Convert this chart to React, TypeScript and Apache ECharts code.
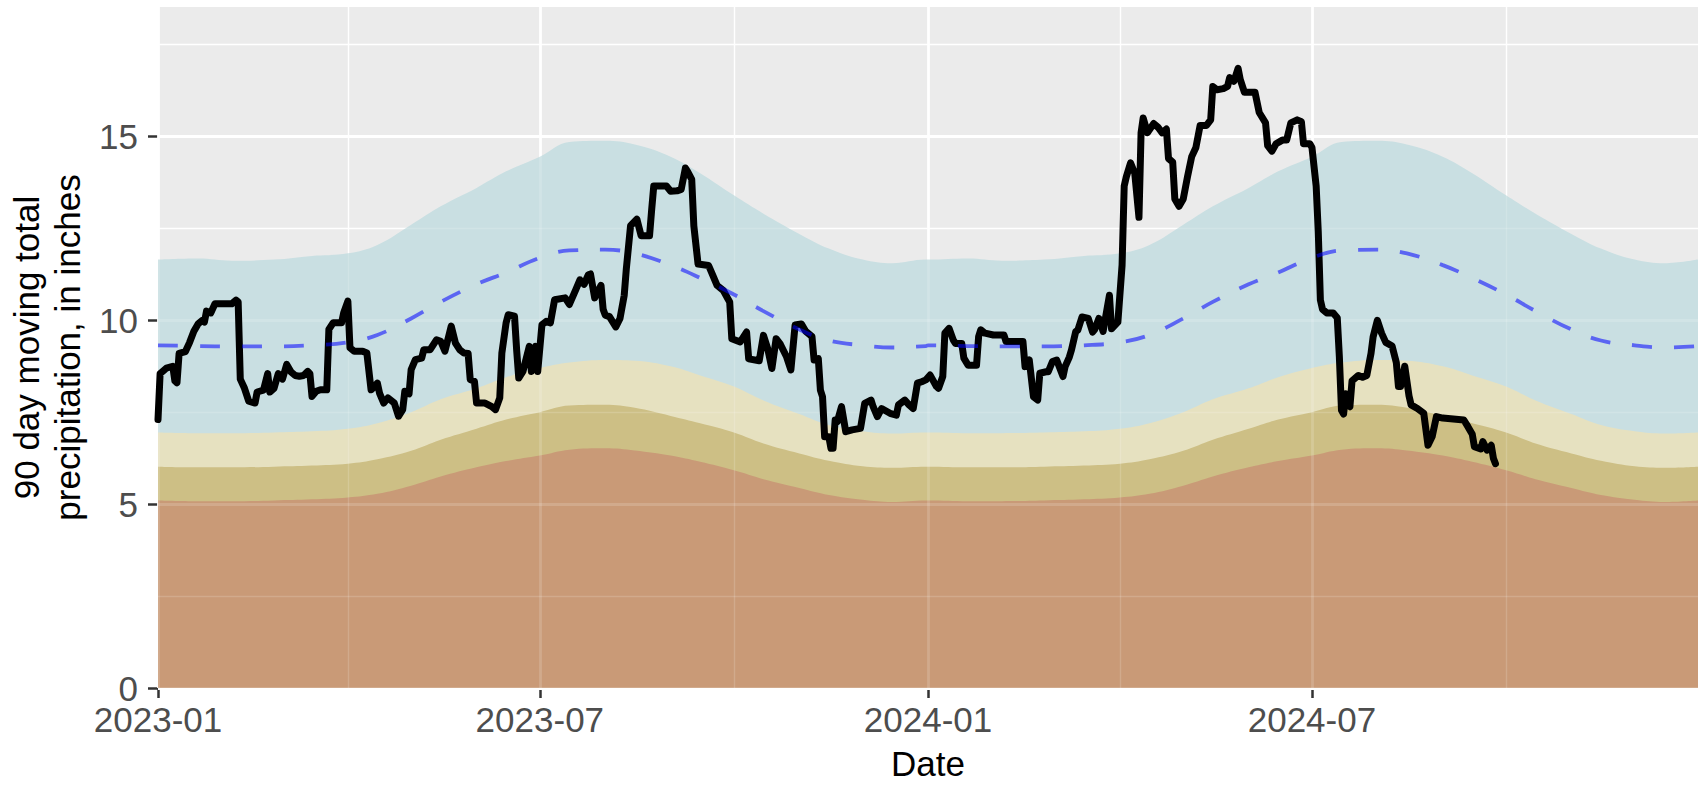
import React, { useEffect, useRef } from 'react';
import * as echarts from 'echarts';

const FONT = '"Liberation Sans", Arial, sans-serif';

const START = '2023-01-01';
const END = '2024-12-31';
const climYears = [2023, 2024];

// Climatology (same for each year), read at these month-day points
const climMonthDay = ['01-01', '01-20', '02-05', '02-25', '03-15', '04-01', '04-15', '05-01', '05-15', '06-01', '06-15', '07-01', '07-15', '08-01', '08-15', '09-01', '09-15', '10-01', '10-15', '11-01', '11-15', '12-01', '12-15', '12-31'];
const climBrownTop = [5.1, 5.08, 5.08, 5.1, 5.13, 5.18, 5.28, 5.5, 5.75, 6.0, 6.17, 6.32, 6.48, 6.52, 6.46, 6.32, 6.15, 5.92, 5.68, 5.44, 5.25, 5.12, 5.06, 5.1];
const climOliveTop = [6.02, 6.0, 6.0, 6.02, 6.05, 6.1, 6.22, 6.45, 6.75, 7.05, 7.3, 7.5, 7.68, 7.7, 7.62, 7.4, 7.2, 6.95, 6.65, 6.38, 6.18, 6.03, 5.99, 6.02];
const climBeigeTop = [6.95, 6.93, 6.93, 6.95, 6.98, 7.05, 7.2, 7.5, 7.85, 8.15, 8.45, 8.7, 8.85, 8.92, 8.9, 8.75, 8.5, 8.2, 7.82, 7.45, 7.15, 6.98, 6.92, 6.95];
const climBlueTop = [11.65, 11.68, 11.62, 11.65, 11.75, 11.82, 12.05, 12.6, 13.1, 13.6, 14.05, 14.45, 14.85, 14.88, 14.78, 14.45, 14.0, 13.4, 12.9, 12.35, 11.95, 11.65, 11.55, 11.65];
const climMedian = [9.32, 9.3, 9.29, 9.29, 9.32, 9.4, 9.6, 10.05, 10.5, 10.98, 11.3, 11.7, 11.9, 11.92, 11.82, 11.5, 11.15, 10.7, 10.25, 9.75, 9.45, 9.32, 9.26, 9.3];

// Observed 90-day moving total: days since 2023-01-01 and inches
const obsDayOffset = [0, 1, 4, 7, 8, 9, 10, 13, 15, 17, 19, 21, 22, 23, 25, 27, 35, 37, 38, 39, 41, 43, 46, 47, 50, 52, 53, 55, 57, 59, 61, 63, 65, 67, 69, 71, 72, 73, 75, 77, 80, 81, 83, 87, 88, 90, 91, 93, 97, 99, 101, 102, 104, 105, 107, 109, 112, 114, 116, 117, 119, 120, 122, 125, 126, 129, 132, 134, 136, 138, 139, 141, 143, 145, 147, 148, 150, 151, 155, 158, 160, 162, 163, 165, 166, 169, 170, 171, 173, 176, 177, 179, 180, 182, 184, 186, 188, 193, 195, 198, 200, 202, 204, 205, 207, 210, 211, 212, 214, 217, 219, 221, 222, 224, 227, 229, 233, 234, 235, 241, 243, 246, 248, 250, 251, 253, 254, 256, 261, 263, 265, 268, 270, 271, 272, 276, 279, 280, 285, 287, 289, 291, 293, 295, 298, 300, 302, 305, 307, 310, 311, 313, 314, 315, 316, 318, 319, 320, 321, 322, 324, 326, 329, 333, 335, 338, 339, 341, 343, 347, 350, 351, 354, 356, 358, 360, 362, 364, 366, 369, 370, 372, 373, 375, 377, 378, 381, 382, 384, 388, 389, 390, 392, 396, 401, 402, 410, 411, 413, 415, 417, 418, 421, 422, 424, 426, 429, 430, 432, 433, 435, 436, 438, 441, 443, 444, 446, 448, 451, 452, 455, 457, 458, 459, 461, 463, 465, 466, 467, 469, 472, 474, 476, 478, 479, 481, 482, 484, 486, 488, 490, 492, 494, 497, 499, 500, 502, 505, 507, 508, 510, 512, 513, 515, 520, 522, 525, 526, 528, 530, 533, 535, 537, 540, 542, 543, 546, 547, 549, 550, 551, 552, 554, 557, 559, 560, 561, 562, 563, 564, 565, 566, 569, 571, 573, 575, 576, 578, 580, 582, 585, 587, 588, 589, 591, 593, 594, 597, 600, 602, 604, 606, 609, 619, 621, 623, 624, 627, 628, 630, 632, 633, 634];
const obsValue = [7.3, 8.55, 8.7, 8.75, 8.35, 8.3, 9.1, 9.15, 9.4, 9.7, 9.9, 10.0, 9.95, 10.25, 10.2, 10.45, 10.45, 10.55, 10.5, 8.4, 8.15, 7.8, 7.75, 8.05, 8.1, 8.55, 8.05, 8.15, 8.55, 8.4, 8.8, 8.6, 8.5, 8.48, 8.5, 8.61, 8.55, 7.93, 8.07, 8.11, 8.11, 9.75, 9.93, 9.93, 10.2, 10.52, 9.25, 9.16, 9.16, 9.11, 8.11, 8.16, 8.29, 8.02, 7.75, 7.89, 7.75, 7.39, 7.57, 8.07, 8.0, 8.66, 8.93, 8.97, 9.2, 9.2, 9.47, 9.43, 9.16, 9.61, 9.84, 9.38, 9.2, 9.11, 9.1, 8.39, 8.34, 7.75, 7.75, 7.66, 7.57, 7.89, 9.11, 9.93, 10.15, 10.11, 9.2, 8.43, 8.61, 9.29, 8.61, 9.29, 8.61, 9.88, 9.97, 9.93, 10.56, 10.61, 10.43, 10.83, 11.1, 10.98, 11.24, 11.26, 10.61, 10.95, 10.3, 10.14, 10.1, 9.82, 10.05, 10.68, 11.4, 12.57, 12.75, 12.3, 12.3, 13.0, 13.65, 13.65, 13.51, 13.52, 13.56, 14.14, 14.05, 13.83, 12.57, 11.53, 11.49, 11.22, 10.95, 10.81, 10.6, 10.5, 9.5, 9.41, 9.68, 8.95, 8.9, 9.59, 9.23, 8.69, 9.5, 9.35, 9.0, 8.65, 9.87, 9.9, 9.7, 9.56, 8.92, 8.96, 8.1, 7.92, 6.83, 6.83, 6.52, 6.52, 7.29, 7.24, 7.65, 6.97, 7.02, 7.06, 7.74, 7.83, 7.65, 7.38, 7.6, 7.47, 7.42, 7.7, 7.83, 7.7, 7.6, 8.29, 8.33, 8.38, 8.51, 8.2, 8.15, 8.47, 9.65, 9.78, 9.46, 9.37, 9.37, 8.97, 8.78, 8.78, 9.56, 9.74, 9.65, 9.6, 9.6, 9.42, 9.42, 8.74, 8.92, 7.92, 7.83, 8.56, 8.6, 8.6, 8.88, 8.92, 8.47, 8.74, 9.0, 9.19, 9.69, 9.73, 10.09, 10.05, 9.68, 9.75, 10.05, 9.7, 10.68, 9.77, 9.95, 11.5, 13.65, 13.9, 14.28, 14.0, 12.8, 15.1, 15.5, 15.1, 15.35, 15.25, 15.1, 15.2, 14.4, 14.3, 13.3, 13.1, 13.3, 13.9, 14.45, 14.7, 15.3, 15.3, 15.45, 16.36, 16.27, 16.3, 16.36, 16.6, 16.5, 16.85, 16.55, 16.2, 16.2, 15.65, 15.37, 14.75, 14.6, 14.8, 14.9, 14.9, 15.37, 15.45, 15.4, 14.8, 14.8, 14.7, 13.65, 12.4, 10.55, 10.3, 10.2, 10.2, 10.07, 9.0, 7.55, 7.45, 8.0, 7.7, 7.65, 8.35, 8.5, 8.45, 8.5, 9.1, 9.55, 10.0, 9.65, 9.4, 9.3, 8.85, 8.2, 8.2, 8.75, 7.95, 7.7, 7.6, 7.47, 6.6, 6.84, 7.38, 7.34, 7.29, 7.1, 6.9, 6.56, 6.5, 6.7, 6.47, 6.6, 6.25, 6.1];

const xMajorDates = ['2023-01-01', '2023-07-01', '2024-01-01', '2024-07-01', '2025-01-01'];
const xLabelDates = ['2023-01-01', '2023-07-01', '2024-01-01', '2024-07-01'];
const xMinorDates = ['2023-04-01', '2023-10-01', '2024-04-01', '2024-10-01'];
const yMajorTicks = [0, 5, 10, 15];
const yMinorTicks = [2.5, 7.5, 12.5, 17.5];
const Y_MAX = 18.52;

const DAY_MS = 86400000;
const ts = (s: string) => Date.parse(s + 'T00:00:00Z');
const fmtMonth = (v: number) => {
  const d = new Date(v);
  return d.getUTCFullYear() + '-' + String(d.getUTCMonth() + 1).padStart(2, '0');
};

function climSeries(values: number[]) {
  const out: [number, number][] = [];
  climYears.forEach((y) => {
    climMonthDay.forEach((md, i) => out.push([ts(y + '-' + md), values[i]]));
  });
  return out;
}

const MAJOR_W = 2.8;
const MINOR_W = 1.4;

function gridMarkData(color: string) {
  return [
    ...xMajorDates.map((d) => ({ xAxis: ts(d), lineStyle: { color, type: 'solid', width: MAJOR_W } })),
    ...xMinorDates.map((d) => ({ xAxis: ts(d), lineStyle: { color, type: 'solid', width: MINOR_W } })),
    ...yMajorTicks.map((v) => ({ yAxis: v, lineStyle: { color, type: 'solid', width: MAJOR_W } })),
    ...yMinorTicks.map((v) => ({ yAxis: v, lineStyle: { color, type: 'solid', width: MINOR_W } })),
  ];
}

export default function App() {
  const ref = useRef<HTMLDivElement>(null);
  useEffect(() => {
    if (!ref.current) return;
    const chart = echarts.init(ref.current, undefined, { renderer: 'svg' });

    const start = ts(START);
    const obs = obsDayOffset.map((d, i) => [start + d * DAY_MS, obsValue[i]]);

    const band = (name: string, values: number[], color: string) => ({
      name,
      type: 'line',
      data: climSeries(values),
      smooth: 0.4,
      showSymbol: false,
      symbol: 'none',
      lineStyle: { width: 0, opacity: 0 },
      areaStyle: { color, opacity: 1, origin: 'start' },
      silent: true,
      z: 2,
    });

    const gridSeries = (name: string, color: string, z: number) => ({
      name,
      type: 'line',
      data: [[start, 0]],
      showSymbol: false,
      symbol: 'none',
      lineStyle: { width: 0, opacity: 0 },
      silent: true,
      z,
      markLine: {
        silent: true,
        z,
        symbol: ['none', 'none'],
        label: { show: false },
        animation: false,
        data: gridMarkData(color),
      },
    });

    const tickStyle = { color: '#333333', width: 2.5 };
    const labelStyle = { color: '#4D4D4D', fontSize: 35, fontFamily: FONT };
    const titleStyle = { color: '#000000', fontSize: 35, fontFamily: FONT };

    const option: any = {
      animation: false,
      backgroundColor: '#ffffff',
      textStyle: { fontFamily: FONT },
      grid: {
        left: 158, right: 0, top: 7, bottom: 97,
        show: true, backgroundColor: '#EBEBEB', borderWidth: 0,
        containLabel: false, outerBoundsMode: 'none',
      },
      xAxis: {
        type: 'value',
        min: ts(START),
        max: ts(END),
        axisLine: { show: false },
        axisTick: { show: true, customValues: xLabelDates.map(ts), length: 10, lineStyle: tickStyle },
        axisLabel: {
          customValues: xLabelDates.map(ts),
          formatter: (v: number) => fmtMonth(v),
          margin: 16,
          lineHeight: 30,
          ...labelStyle,
        },
        splitLine: { show: false },
        name: 'Date',
        nameLocation: 'middle',
        nameGap: 60,
        nameTextStyle: { ...titleStyle, lineHeight: 30 },
      },
      yAxis: {
        type: 'value',
        min: 0,
        max: Y_MAX,
        interval: 5,
        axisLine: { show: false },
        axisTick: { show: true, customValues: yMajorTicks, length: 10, lineStyle: tickStyle },
        axisLabel: { customValues: yMajorTicks, margin: 20, lineHeight: 26, ...labelStyle },
        splitLine: { show: false },
        name: '90 day moving total\nprecipitation, in inches',
        nameLocation: 'middle',
        nameRotate: 90,
        nameGap: 64,
        nameTextStyle: { ...titleStyle, lineHeight: 41, align: 'center' },
      },
      series: [
        gridSeries('grid', '#ffffff', 1),
        band('wet', climBlueTop, '#C9DFE2'),
        band('normal', climBeigeTop, '#E6E1C0'),
        band('dry', climOliveTop, '#CDBF85'),
        band('verydry', climBrownTop, '#C99A77'),
        gridSeries('gridOverlay', 'rgba(255,255,255,0.16)', 3),
        {
          name: 'observed',
          type: 'line',
          data: obs,
          showSymbol: false,
          symbol: 'none',
          silent: true,
          z: 4,
          lineStyle: { color: '#000000', width: 7, join: 'round', cap: 'round' },
        },
        {
          name: 'median',
          type: 'line',
          data: climSeries(climMedian),
          smooth: 0.4,
          showSymbol: false,
          symbol: 'none',
          silent: true,
          z: 5,
          lineStyle: { color: 'rgba(0,0,255,0.55)', width: 3.8, type: [20, 22] },
        },
      ],
    };
    chart.setOption(option);
    return () => chart.dispose();
  }, []);
  return <div ref={ref} style={{ position: 'fixed', left: 0, top: 0, width: 1698, height: 785 }} />;
}
